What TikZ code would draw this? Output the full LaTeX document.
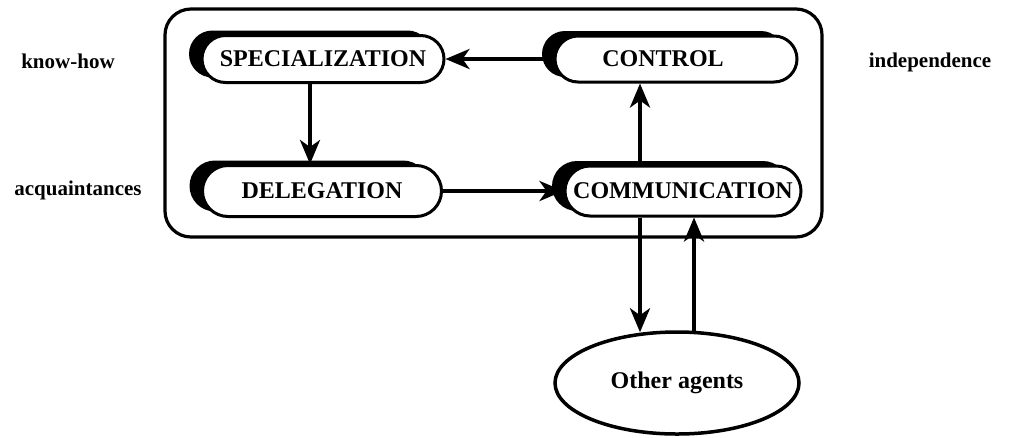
\documentclass[tikz,border=0pt]{standalone}
\usepackage{fontspec}
\setmainfont{Liberation Serif}
\usetikzlibrary{shapes.misc,shapes.geometric,shadows,arrows.meta}
\begin{document}
\begin{tikzpicture}[x=1pt,y=-1pt,
  pill/.style={rounded rectangle, draw, line width=3pt, fill=white, inner sep=0pt,
    font=\bfseries\fontsize{24}{26}\selectfont,
    general shadow={shadow xshift=-13pt, shadow yshift=5pt, fill=black}},
  arr/.style={line width=4pt, -{Stealth[length=24pt,width=20pt,inset=7pt]}},
  side/.style={font=\bfseries\fontsize{21}{23}\selectfont, inner sep=0pt}]
\useasboundingbox (0,0) rectangle (1011,437);
\draw[line width=3.2pt, rounded corners=26pt] (165,9) rectangle (822,237);
\node[pill, minimum width=242pt, minimum height=47pt] (spec) at (323,59) {SPECIALIZATION};
\node[pill, minimum width=242pt, minimum height=46pt] (ctrl) at (676,59) {\hspace*{-26pt}CONTROL};
\node[pill, minimum width=239pt, minimum height=51pt] (deleg) at (322,191) {DELEGATION};
\node[pill, minimum width=236pt, minimum height=50pt] (comm) at (683,191) {COMMUNICATION};
\node[ellipse, draw, line width=3.5pt, minimum width=244pt, minimum height=102pt,
  font=\bfseries\fontsize{24}{26}\selectfont] (oa) at (677,383) {Other agents};
\node[side] (kh) at (68,61) {know-how};
\node[side] (aq) at (78,190) {acquaintances};
\node[side] (ind) at (930,62) {independence};
\coordinate (xs) at (310,0);
\coordinate (xc) at (640,0);
\coordinate (xr) at (694,0);
\draw[arr] (ctrl.west) -- (spec.east);
\draw[arr] (spec.south -| xs) -- (deleg.north -| xs);
\draw[arr] (deleg.east) -- (comm.west);
\draw[arr] (comm.north -| xc) -- (ctrl.south -| xc);
\draw[arr] (comm.south -| xc) -- ([yshift=-2pt]oa.north -| xc);
\draw[arr] ([yshift=-1pt]oa.north -| xr) -- (comm.south -| xr);
\end{tikzpicture}
\end{document}
